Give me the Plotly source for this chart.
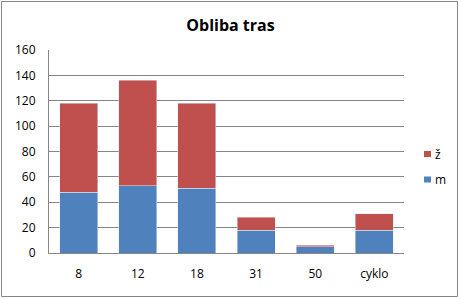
import plotly.graph_objects as go

categories = ["8", "12", "18", "31", "50", "cyklo"]
m_values = [48, 53, 51, 18, 5, 18]
z_values = [70, 83, 67, 10, 1, 13]
y_ticks = [0, 20, 40, 60, 80, 100, 120, 140, 160]
series_names = ["m", "ž"]

BLUE = "#4F81BD"
RED = "#C0504D"

fig = go.Figure()
fig.add_trace(go.Bar(x=categories, y=m_values, name=series_names[0], marker_color=BLUE, showlegend=False))
fig.add_trace(go.Bar(x=categories, y=z_values, name=series_names[1], marker_color=RED, showlegend=False))

W, H = 461, 299
l, r, t, b = 49, 57, 50, 46
pw, ph = W - l - r, H - t - b

def px2x(px):
    return (px - l) / pw

def py2y(py):
    return (H - b - py) / ph

# Excel-style legend: small squares + labels (ž on top, m below)
shapes = [dict(type="rect", xref="paper", yref="paper",
               x0=px2x(1.5), x1=px2x(457.5), y0=py2y(296.5), y1=py2y(1.5),
               line=dict(color="#868686", width=1), fillcolor="rgba(0,0,0,0)", layer="below")]
annotations = []
for name, color, cy in [(series_names[1], RED, 154), (series_names[0], BLUE, 179.5)]:
    shapes.append(dict(type="rect", xref="paper", yref="paper",
                       x0=px2x(424), x1=px2x(431), y0=py2y(cy + 3), y1=py2y(cy - 3),
                       line=dict(width=0), fillcolor=color))
    annotations.append(dict(text=name, xref="paper", yref="paper", x=px2x(433), y=py2y(cy),
                            xanchor="left", yanchor="middle", showarrow=False,
                            font=dict(size=12, color="#000000")))

fig.update_layout(
    width=W, height=H,
    margin=dict(l=l, r=r, t=t, b=b, autoexpand=False),
    paper_bgcolor="white", plot_bgcolor="white",
    barmode="stack", bargap=0.36, showlegend=False,
    font=dict(family="Open Sans, Liberation Sans, sans-serif", size=12, color="#000000"),
    title=dict(text="<b>Obliba tras</b>", x=0.5, xanchor="center", y=1 - 25 / H, yanchor="middle",
               font=dict(size=16, color="#000000")),
    xaxis=dict(showgrid=False, showline=True, linecolor="#868686", linewidth=1, ticks="",
               tickfont=dict(size=12), ticklabelstandoff=10),
    yaxis=dict(range=[0, 160], tickvals=y_ticks, showgrid=True, gridcolor="#868686", gridwidth=1,
               showline=True, linecolor="#868686", linewidth=1, ticks="", zeroline=False,
               tickfont=dict(size=12), ticklabelstandoff=10),
    shapes=shapes,
    annotations=annotations,
)

fig.write_html("out.html")
